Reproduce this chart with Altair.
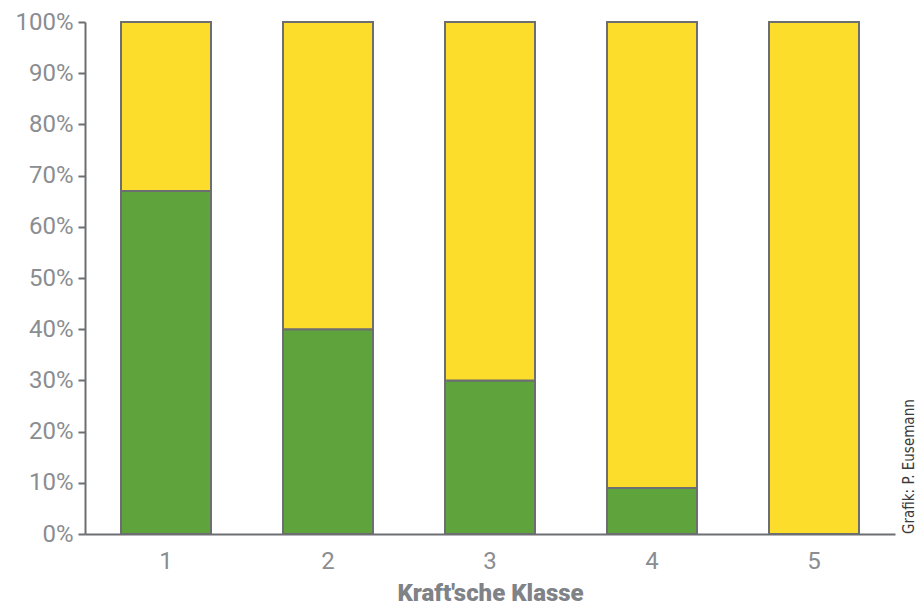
import altair as alt
import pandas as pd

klassen = ["1", "2", "3", "4", "5"]
gruen = [67, 40, 30, 9, 0]
gelb = [33, 60, 70, 91, 100]

rows = []
for k, g, y in zip(klassen, gruen, gelb):
    rows.append({"Klasse": k, "Anteil": g / 100, "Gruppe": "grün", "ord": 0})
    rows.append({"Klasse": k, "Anteil": y / 100, "Gruppe": "gelb", "ord": 1})
df = pd.DataFrame(rows)

FONT = "Roboto"
GRAY = "#8a8d91"
LINE = "#6d6e71"

bars = alt.Chart(df).mark_bar(size=90, stroke=LINE, strokeWidth=2).encode(
    x=alt.X("Klasse:N", sort=klassen,
            axis=alt.Axis(title="Kraft'sche Klasse", labelAngle=0, ticks=False,
                          labelFontSize=24, labelColor=GRAY, labelFont=FONT,
                          labelPadding=15, titleFont=FONT, titleFontSize=24,
                          titleFontWeight=900, titleColor="#7f8287",
                          titlePadding=8, domainColor=LINE, domainWidth=2)),
    y=alt.Y("Anteil:Q", stack="zero", scale=alt.Scale(domain=[0, 1], nice=False),
            axis=alt.Axis(title=None, format=".0%", values=[i / 10 for i in range(11)],
                          labelFontSize=24, labelColor=GRAY, labelFont=FONT,
                          tickSize=7, tickColor=LINE, tickWidth=2, labelPadding=5,
                          domainColor=LINE, domainWidth=2, grid=False)),
    color=alt.Color("Gruppe:N", scale=alt.Scale(domain=["grün", "gelb"],
                                                range=["#5fa33c", "#fddd2b"]), legend=None),
    order=alt.Order("ord:Q", sort="ascending"),
)

credit = alt.Chart(pd.DataFrame({"t": ["Grafik: P. Eusemann"]})).mark_text(
    angle=270, align="left", baseline="middle", fontSize=15, font="DejaVu Sans Condensed",
    color="#3a3a3a", clip=False
).encode(text="t:N", x=alt.value(824), y=alt.value(512))

chart = alt.layer(bars, credit).properties(
    width=810, height=512,
    autosize=alt.AutoSizeParams(type="none"),
    padding={"left": 85, "top": 22, "right": 28, "bottom": 74},
).configure_view(stroke=None).configure_scale(bandPaddingInner=0.44, bandPaddingOuter=0.22)

chart.save("out.html", embed_options={"renderer": "svg", "actions": False})
